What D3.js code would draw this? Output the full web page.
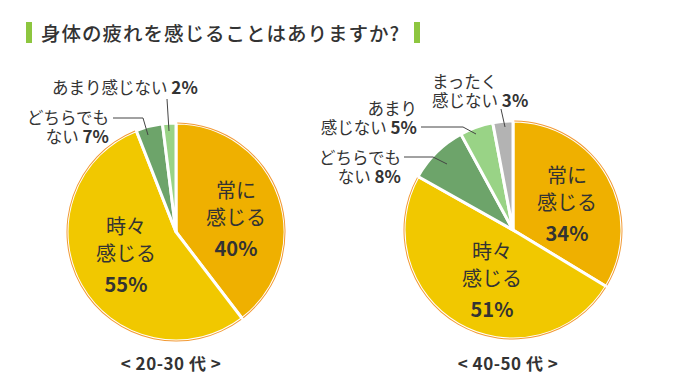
<!DOCTYPE html>
<html>
<head>
<meta charset="utf-8">
<script src="https://cdn.jsdelivr.net/npm/d3@7"></script>
<style>
  body { margin: 0; background: #fff; }
  text { font-family: "Noto Sans CJK JP", "Noto Sans", sans-serif; fill: #333; }
</style>
</head>
<body>
<div id="chart"></div>
<script>
// categories (clockwise from 12 o'clock)
var categories = ["常に感じる", "時々感じる", "どちらでもない", "あまり感じない", "まったく感じない"];
var colors = ["#EFB000", "#F1C800", "#6DA46A", "#99D386", "#B3B3B3"];

// printed percentages
var youngPct = [40, 55, 7, 2];
var olderPct = [34, 51, 8, 5, 3];
// slice sizes as drawn in the picture
var youngShare = [40, 55, 4, 2];
var olderShare = [34, 50, 9, 5, 3];

var groupLabels = ["< 20-30 代 >", "< 40-50 代 >"];
var title = "身体の疲れを感じることはありますか?";

var width = 680, height = 387;
var r = 109;

var svg = d3.select("#chart").append("svg")
    .attr("width", width)
    .attr("height", height);

// title with green bars
svg.append("rect").attr("x", 26).attr("y", 22).attr("width", 6).attr("height", 21).attr("fill", "#8DC63F");
svg.append("rect").attr("x", 414).attr("y", 22).attr("width", 6).attr("height", 21).attr("fill", "#8DC63F");
svg.append("text")
    .attr("x", 41).attr("y", 41)
    .style("font-size", "19.5px")
    .style("font-weight", 500)
    .style("letter-spacing", "1px")
    .text(title);

var pie = d3.pie().sort(null).value(d => d);
var arc = d3.arc().innerRadius(0).outerRadius(r);
var rim = d3.arc().innerRadius(r - 0.5).outerRadius(r + 0.5);

function drawPie(cx, cy, share, label) {
    var g = svg.append("g").attr("transform", `translate(${cx},${cy})`);
    var arcs = pie(share);
    g.selectAll("path.slice")
        .data(arcs)
        .enter()
        .append("path")
        .attr("class", "slice")
        .attr("d", arc)
        .attr("fill", (d, i) => colors[i])
        .attr("stroke", "#fff")
        .attr("stroke-width", 3)
        .attr("stroke-linejoin", "miter");
    // orange rim on the two big slices
    g.selectAll("path.rim")
        .data(arcs.slice(0, 2))
        .enter()
        .append("path")
        .attr("class", "rim")
        .attr("d", d => rim({startAngle: d.startAngle + 0.012, endAngle: d.endAngle - 0.012}))
        .attr("fill", "#F29A35");
    svg.append("text")
        .attr("x", cx - 5).attr("y", 370)
        .attr("text-anchor", "middle")
        .style("font-size", "17px")
        .style("font-weight", 700)
        .style("letter-spacing", "0.5px")
        .text(label);
    return g;
}

function inner(x, y, lines, pct) {
    var t = svg.append("g").style("font-size", "20px").attr("text-anchor", "middle");
    lines.forEach(function(s, i) {
        t.append("text").attr("x", x).attr("y", y + i * 27).text(s);
    });
    t.append("text").attr("x", x).attr("y", y + lines.length * 27 + 4)
        .style("font-weight", 700).text(pct + "%");
}

function outer(x, y, lines, pct, anchor) {
    lines.forEach(function(s, i) {
        var t = svg.append("text")
            .attr("text-anchor", anchor)
            .attr("x", x).attr("y", y + i * 19)
            .style("font-size", "16.5px")
            .text(s);
        if (i == lines.length - 1) {
            t.append("tspan").style("font-weight", 700).style("font-size", "17px").text(" " + pct + "%");
        }
    });
}

function leader(pts) {
    svg.append("path")
        .attr("d", d3.line()(pts))
        .attr("fill", "none")
        .attr("stroke", "#444")
        .attr("stroke-width", 1);
}

// left pie
drawPie(176, 232, youngShare, groupLabels[0]);
inner(236, 198, ["常に", "感じる"], youngPct[0]);
inner(126, 234, ["時々", "感じる"], youngPct[1]);
outer(52, 94, ["あまり感じない"], youngPct[3], "start");
leader([[167, 99], [169, 131]]);
outer(109, 124, ["どちらでも", "ない"], youngPct[2], "end");
leader([[113, 118], [143, 118], [148, 135]]);

// right pie
drawPie(513, 230, olderShare, groupLabels[1]);
inner(567, 183, ["常に", "感じる"], olderPct[0]);
inner(492, 259, ["時々", "感じる"], olderPct[1]);
outer(432, 88, ["まったく", "感じない"], olderPct[4], "start");
leader([[501, 109], [505, 127]]);
outer(417, 115, ["あまり", "感じない"], olderPct[3], "end");
leader([[421, 127], [463, 127], [476, 134]]);
outer(401, 164, ["どちらでも", "ない"], olderPct[2], "end");
leader([[404, 157], [433, 157], [447, 164]]);
</script>
</body>
</html>
